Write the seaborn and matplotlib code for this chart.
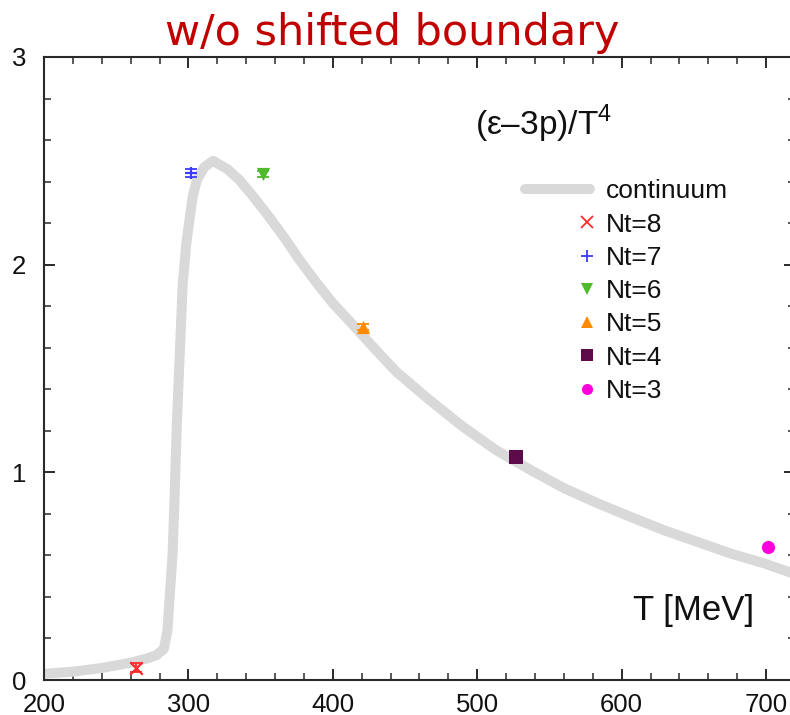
import numpy as np
import pandas as pd
import matplotlib
matplotlib.use('Agg')
import matplotlib.pyplot as plt
import seaborn as sns
from matplotlib.lines import Line2D
from matplotlib.legend_handler import HandlerLine2D
from matplotlib.ticker import MultipleLocator

# continuum curve
T_cont = [200, 220, 240, 260, 272, 278, 283, 285.5, 287, 289, 290.5, 292, 294, 296,
          298.5, 301, 303, 306, 311, 317, 327, 335, 345, 354, 366, 377, 389, 400,
          412, 423.5, 433, 444, 467, 490, 513, 537, 560, 583, 606, 629, 652, 675,
          698, 720]
e3p_cont = [0.03, 0.04, 0.058, 0.083, 0.105, 0.12, 0.15, 0.24, 0.40, 0.60, 0.90, 1.24,
            1.57, 1.90, 2.10, 2.23, 2.33, 2.41, 2.47, 2.50, 2.46, 2.41, 2.327, 2.247,
            2.134, 2.022, 1.91, 1.814, 1.725, 1.637, 1.565, 1.484, 1.348, 1.22, 1.107,
            1.011, 0.924, 0.852, 0.786, 0.722, 0.666, 0.61, 0.563, 0.51]

# lattice points
nt_labels = ['Nt=8', 'Nt=7', 'Nt=6', 'Nt=5', 'Nt=4', 'Nt=3']
nt_T = [264, 302, 351.5, 421, 526.5, 701.5]
nt_val = [0.06, 2.44, 2.435, 1.70, 1.075, 0.642]
nt_err = [0.02, 0.02, 0.015, 0.015, 0.0, 0.0]
nt_colors = ['#ff2a2a', '#3c3cff', '#4fba2a', '#ff8a00', '#5c0a48', '#ff00dc']
nt_markers = ['x', '+', 'v', '^', 's', 'o']

cont_color = '#d9d9d9'
ink = '#111111'

sns.set_style('ticks')
plt.rcParams['font.family'] = ['Liberation Sans', 'DejaVu Sans']
plt.rcParams['mathtext.fontset'] = 'custom'
plt.rcParams['mathtext.rm'] = 'Liberation Sans'

fig = plt.figure(figsize=(7.9, 7.15), dpi=100)
ax = fig.add_axes([44 / 790, 35 / 715, 751 / 790, 623 / 715])

cont = pd.DataFrame({'T': T_cont, 'v': e3p_cont})
sns.lineplot(data=cont, x='T', y='v', color=cont_color, linewidth=7.2, ax=ax,
             solid_capstyle='round', legend=False)

for T, v, err, c, m in zip(nt_T, nt_val, nt_err, nt_colors, nt_markers):
    if err > 0:
        ax.errorbar([T], [v], yerr=[err], fmt='none', ecolor=c, elinewidth=1.3,
                    capsize=4, capthick=1.3, zorder=3)
    filled = m not in ('x', '+')
    sns.scatterplot(x=[T], y=[v], marker=m, color=c, s=90 if filled else 80,
                    linewidth=0 if filled else 1.6, ax=ax, zorder=4, legend=False)

ax.set_xlim(200, 720)
ax.set_ylim(0, 3)
ax.xaxis.set_major_locator(MultipleLocator(100))
ax.xaxis.set_minor_locator(MultipleLocator(20))
ax.yaxis.set_major_locator(MultipleLocator(1))
ax.yaxis.set_minor_locator(MultipleLocator(0.2))
ax.xaxis.set_ticks_position('both')
ax.yaxis.set_ticks_position('both')
ax.set_xlabel('')
ax.set_ylabel('')
for s in ax.spines.values():
    s.set_visible(True)
    s.set_color('#2a2a2a')
    s.set_linewidth(1.5)
ax.tick_params(which='both', direction='in', top=True, right=True, bottom=True,
               left=True, labeltop=False, labelright=False, color='#2a2a2a',
               labelsize=18.5, labelcolor=ink)
ax.tick_params(which='major', length=8, width=1.4)
ax.tick_params(which='minor', length=5, width=1.1)
ax.tick_params(axis='y', pad=13)
ax.tick_params(axis='x', pad=9)


class RightMarker(HandlerLine2D):
    # marker sits at the right end of the sample, as in the original legend
    def get_xdata(self, legend, xdescent, ydescent, width, height, fontsize):
        m = -xdescent + width - 0.1 * fontsize
        return [m - 1, m + 1], [m]


cont_handle = Line2D([], [], color=cont_color, lw=7.2, solid_capstyle='round')
handles = [cont_handle]
hmap = {}
for c, m in zip(nt_colors, nt_markers):
    filled = m not in ('x', '+')
    h = Line2D([], [], ls='none', marker=m, color=c, markersize=8,
               mew=0 if filled else 1.3)
    handles.append(h)
    hmap[h] = RightMarker()
leg = ax.legend(handles, ['continuum'] + nt_labels, loc='upper left',
                bbox_to_anchor=(0.641, 0.8036), frameon=False, fontsize=19,
                handlelength=2.45, handletextpad=0.6, labelspacing=0.35,
                borderpad=0, borderaxespad=0, numpoints=1, handler_map=hmap)
for t in leg.get_texts():
    t.set_color(ink)

ax.text(0.757, 0.874, r'(ε–3p)/T$^{4}$', transform=ax.transAxes, fontsize=24,
        va='baseline', ha='right', color=ink)
ax.text(0.784, 0.0963, 'T [MeV]', transform=ax.transAxes, fontsize=25,
        va='baseline', ha='left', color=ink)

fig.text(0.497, 0.937, 'w/o shifted boundary', ha='center', va='baseline',
         fontsize=31, color='#c00000', family='DejaVu Sans')

fig.savefig('out.png', dpi=100)
